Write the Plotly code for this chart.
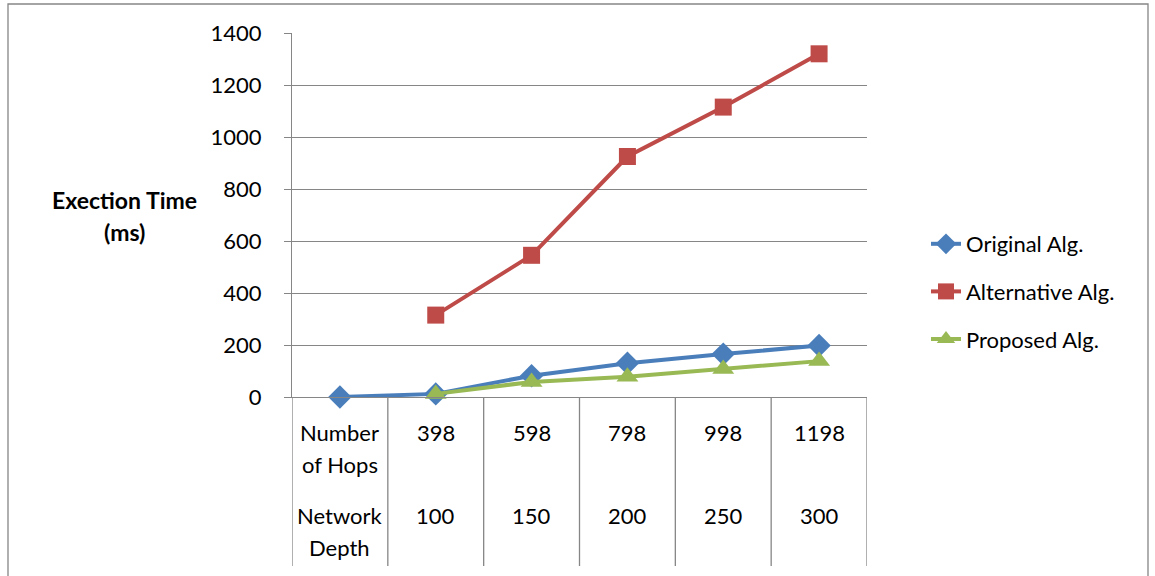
import plotly.graph_objects as go

x_pos = [0, 1, 2, 3, 4, 5]
hops_line1 = ["Number", "398", "598", "798", "998", "1198"]
hops_line2 = ["of Hops", "", "", "", "", ""]
depth_line1 = ["Network", "100", "150", "200", "250", "300"]
depth_line2 = ["Depth", "", "", "", "", ""]
original = [0, 12, 82, 130, 165, 198]
alternative = [None, 315, 545, 925, 1115, 1320]
proposed = [None, 12, 58, 78, 108, 138]

FONT = "Lato"
FS = 22
W, H = 1155, 576
L, R, T, B = 292, 867, 33, 397
ph = B - T
pw = R - L

def py(pix):
    return (B - pix) / ph

def px(pix):
    return (pix - L) / pw

fig = go.Figure()
fig.add_trace(go.Scatter(x=x_pos, y=original, name="Original Alg.", mode="lines+markers",
                         line=dict(color="#4A7EBB", width=4),
                         marker=dict(symbol="diamond", size=18, color="#4A7EBB"),
                         cliponaxis=False, legendgroup="a"))
fig.add_trace(go.Scatter(x=x_pos, y=alternative, name="Alternative Alg.", mode="lines+markers",
                         line=dict(color="#BE4B48", width=4),
                         marker=dict(symbol="square", size=17, color="#BE4B48"),
                         cliponaxis=False, legendgroup="b"))
fig.add_trace(go.Scatter(x=x_pos, y=proposed, name="Proposed Alg.", mode="lines+markers",
                         line=dict(color="#98B954", width=4),
                         marker=dict(symbol="triangle-up", size=19, color="#98B954"),
                         cliponaxis=False, legendgroup="c"))

shapes = []
for i in range(7):
    xb = i - 0.5
    shapes.append(dict(type="line", xref="x", yref="paper", x0=xb, x1=xb, y0=py(566), y1=0,
                       line=dict(color="#868686", width=1.3)))
shapes.append(dict(type="rect", xref="paper", yref="paper",
                   x0=px(8), x1=px(1148), y0=py(590), y1=py(4),
                   line=dict(color="#868686", width=1.3), layer="below"))

annotations = []
def txt(x, xref, y, s, bold=False, size=FS):
    annotations.append(dict(x=x, y=y, xref=xref, yref="paper", text=("<b>%s</b>" % s) if bold else s,
                            showarrow=False, xanchor="center", yanchor="middle",
                            font=dict(family=FONT, size=size, color="#000")))

for i in range(6):
    txt(x_pos[i], "x", py(432), hops_line1[i])
    if hops_line2[i]:
        txt(x_pos[i], "x", py(464), hops_line2[i])
    txt(x_pos[i], "x", py(515), depth_line1[i])
    if depth_line2[i]:
        txt(x_pos[i], "x", py(547), depth_line2[i])
txt(px(124), "paper", py(200), "Exection Time", bold=True, size=23)
txt(px(124), "paper", py(232), "(ms)", bold=True, size=23)

fig.update_layout(
    width=W, height=H,
    margin=dict(l=L, r=W - R, t=T, b=H - B),
    paper_bgcolor="white", plot_bgcolor="white",
    font=dict(family=FONT, size=FS, color="#000"),
    xaxis=dict(range=[-0.5, 5.5], showticklabels=False, showgrid=False, zeroline=False,
               showline=True, linecolor="#868686", linewidth=1.3, ticks=""),
    yaxis=dict(range=[0, 1400], tickvals=[0, 200, 400, 600, 800, 1000, 1200, 1400],
               showgrid=True, gridcolor="#868686", gridwidth=1.3, zeroline=False,
               showline=True, linecolor="#868686", linewidth=1.3,
               ticks="outside", ticklen=7, tickcolor="#868686", tickwidth=1.3,
               ticklabelstandoff=18,
               tickfont=dict(family=FONT, size=FS, color="#000")),
    legend=dict(x=px(926), y=py(223), xanchor="left", yanchor="top",
                font=dict(family=FONT, size=FS, color="#000"), tracegroupgap=16,
                bgcolor="rgba(0,0,0,0)"),
    shapes=shapes, annotations=annotations,
)
fig.write_html("out.html")
